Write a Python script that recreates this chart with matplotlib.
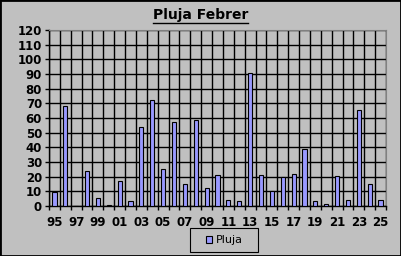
import numpy as np
import matplotlib
matplotlib.use("Agg")
import matplotlib.pyplot as plt
from matplotlib.patches import Rectangle
from matplotlib.lines import Line2D

plt.rcParams["font.family"] = ["DejaVu Sans"]

# dades
anys = [str(y % 100).zfill(2) for y in range(1995, 2026)]
pluja = [9.5, 68, 0, 24, 5.4, 1, 17, 3.4, 54, 72, 25, 57, 15, 58.7,
         12, 21, 4, 3.4, 91, 21, 10, 19.7, 21.8, 38.8, 3.4, 1.6, 20.4, 4, 65.3, 15, 4]

fons = "#C0C0C0"
fig = plt.figure(figsize=(4.01, 2.56), dpi=100, facecolor=fons)
ax = fig.add_axes([49 / 401, 1 - 206 / 256, 337 / 401, 176 / 256])
ax.set_facecolor(fons)

x = np.arange(len(anys))
ax.bar(x, pluja, width=0.38, color="#9999FF", edgecolor="black", linewidth=0.8,
       label="Pluja", zorder=3)

ax.set_xlim(-0.5, len(anys) - 0.5)
ax.set_ylim(0, 120)
ax.set_yticks(np.arange(0, 121, 10))
ax.set_xticks(x[::2])
ax.set_xticklabels(anys[::2])
ax.set_xticks(np.arange(-0.5, len(anys), 1), minor=True)
ax.tick_params(axis="x", which="major", length=0, pad=7)
ax.tick_params(axis="x", which="minor", length=3, width=1, color="black")
ax.tick_params(axis="y", length=3, width=1, color="black", pad=2)
for lab in ax.get_xticklabels() + ax.get_yticklabels():
    lab.set_fontweight("bold")
    lab.set_fontsize(8.5)

ax.grid(True, axis="y", which="major", color="black", linewidth=1, zorder=1)
ax.grid(True, axis="x", which="minor", color="black", linewidth=1, zorder=1)
for s in ["top", "right"]:
    ax.spines[s].set_color("#808080")
for s in ["left", "bottom"]:
    ax.spines[s].set_color("black")
    ax.spines[s].set_linewidth(1)

# títol subratllat
t = fig.text(0.5, 1 - 15 / 256, "Pluja Febrer", ha="center", va="center",
             fontsize=10, fontweight="bold")
fig.canvas.draw()
bb = t.get_window_extent().transformed(fig.transFigure.inverted())
fig.add_artist(Line2D([bb.x0, bb.x1], [bb.y0 - 0.004, bb.y0 - 0.004],
                      color="black", linewidth=1, transform=fig.transFigure))

# llegenda amb marc propi
leg = fig.legend(loc="center", bbox_to_anchor=(224 / 401, 1 - 240 / 256),
                 fontsize=8, frameon=False, handlelength=0.6,
                 handleheight=0.6, handletextpad=0.3, borderaxespad=0)
fig.add_artist(Rectangle((190 / 401, 1 - 252 / 256), 68 / 401, 24 / 256,
                         transform=fig.transFigure, fill=False,
                         edgecolor="black", linewidth=0.8))

fig.add_artist(Rectangle((0, 0), 1, 1, transform=fig.transFigure, fill=False,
                         edgecolor="black", linewidth=2))

fig.savefig("out.png", dpi=100, facecolor=fons)
